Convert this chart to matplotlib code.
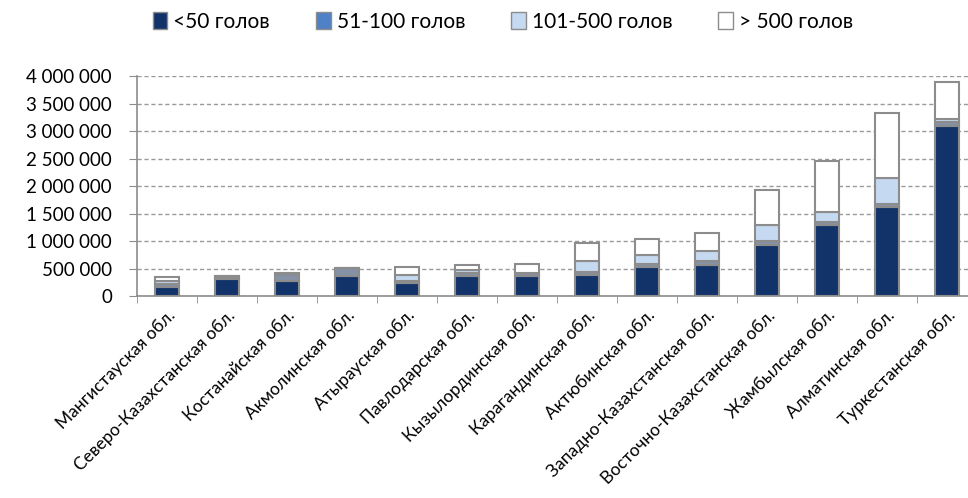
import matplotlib
matplotlib.use('Agg')
import matplotlib.pyplot as plt
from matplotlib.patches import Patch
import numpy as np

# regions (x axis)
regions = ['Мангистауская обл.', 'Северо-Казахстанская обл.', 'Костанайская обл.',
           'Акмолинская обл.', 'Атырауская обл.', 'Павлодарская обл.',
           'Кызылординская обл.', 'Карагандинская обл.', 'Актюбинская обл.',
           'Западно-Казахстанская обл.', 'Восточно-Казахстанская обл.',
           'Жамбылская обл.', 'Алматинская обл.', 'Туркестанская обл.']

# head counts by herd size group
lt50 = [170000, 305000, 275000, 366000, 244000, 366000, 366000, 375000,
        530000, 561000, 927000, 1293000, 1616000, 3098000]
g51_100 = [50000, 40000, 125000, 140000, 30000, 45000, 55000, 70000,
           55000, 67000, 79000, 49000, 61000, 61000]
g101_500 = [60000, 15000, 5000, 5000, 100000, 55000, 5000, 200000,
            165000, 195000, 287000, 183000, 476000, 61000]
gt500 = [70000, 5000, 5000, 5000, 160000, 100000, 160000, 315000,
         293000, 317000, 628000, 930000, 1170000, 671000]

series = [lt50, g51_100, g101_500, gt500]
labels = ['<50 голов', '51-100 голов', '101-500 голов', '> 500 голов']
bar_colors = ['#12336a', '#8592a6', '#c5d9f1', '#ffffff']
legend_colors = ['#12336a', '#4f81c7', '#c5d9f1', '#ffffff']

plt.rcParams['font.family'] = ['Lato', 'DejaVu Sans']

fig = plt.figure(figsize=(9.68, 4.98), dpi=100)
ax = fig.add_axes([137 / 968, 202 / 498, 840 / 968, 220 / 498])

x = np.arange(len(regions))
bottom = np.zeros(len(regions))
for vals, col in zip(series, bar_colors):
    ax.bar(x, vals, width=0.4, bottom=bottom, color=col,
           edgecolor='#8c8c8c', linewidth=1.5, zorder=3)
    bottom += np.array(vals)

ax.set_xlim(-0.5, len(regions) - 0.5)
ax.set_ylim(0, 4000000)
ax.set_yticks(np.arange(0, 4000001, 500000))
ax.set_yticklabels([f'{int(v):,}'.replace(',', ' ') for v in ax.get_yticks()],
                   fontsize=13.5)
ax.yaxis.grid(True, linestyle=(0, (3, 2)), color='#9a9a9a', linewidth=1, zorder=0)

ax.set_xticks(x)
ax.set_xticklabels(regions, rotation=45, ha='right', va='top',
                   rotation_mode='anchor', fontsize=12.5)
ax.set_xticks(np.arange(-0.5, len(regions), 1), minor=True)
ax.tick_params(axis='x', which='major', length=0, pad=8)
ax.tick_params(axis='x', which='minor', length=5, color='#8c8c8c')
ax.tick_params(axis='y', length=6, color='#8c8c8c', pad=12)

for s in ['top', 'right']:
    ax.spines[s].set_visible(False)
for s in ['left', 'bottom']:
    ax.spines[s].set_color('#8c8c8c')
    ax.spines[s].set_linewidth(1.2)

handles = [Patch(facecolor=c, edgecolor='#8c8c8c', linewidth=1) for c in legend_colors]
fig.legend(handles, labels, loc='center', bbox_to_anchor=(503 / 968, 1 - 22 / 498),
           ncol=4, frameon=False, fontsize=15, handlelength=0.7, handleheight=0.9,
           handletextpad=0.3, columnspacing=2.2)

fig.savefig('out.png', dpi=100)
